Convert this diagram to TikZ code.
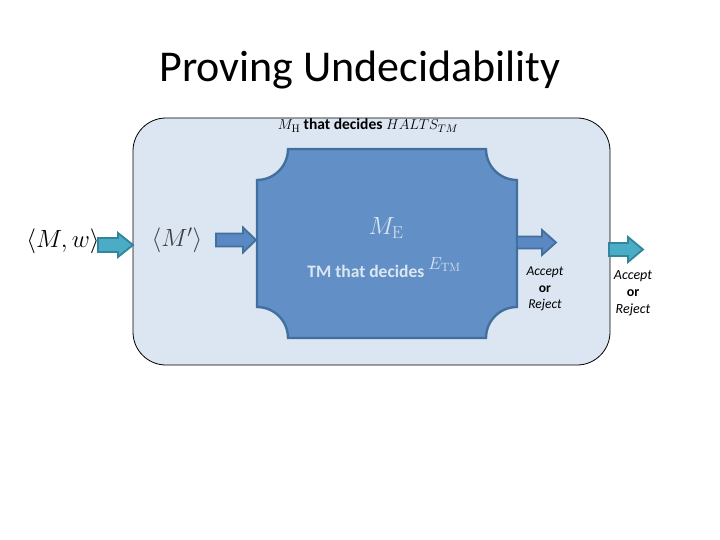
\documentclass[tikz,border=0pt]{standalone}
\usepackage[no-math]{fontspec}
\setmainfont{Carlito}
\definecolor{outerfill}{HTML}{DCE6F2}
\definecolor{plaquefill}{HTML}{6290C6}
\definecolor{plaquedraw}{HTML}{41709F}
\definecolor{bluearrow}{HTML}{5A88C2}
\definecolor{tealfill}{HTML}{4BACC6}
\definecolor{tealdraw}{HTML}{31859C}
\definecolor{lighttext}{HTML}{DCE6F2}
\tikzset{
  tealarrow/.style={fill=tealfill, draw=tealdraw, line width=1.8pt, line join=miter},
  bluearr/.style={fill=bluearrow, draw=plaquedraw, line width=1.8pt, line join=miter},
}
% #1 style, #2 x start, #3 x tip, #4 y centre, #5 shaft half, #6 head half, #7 head length
\newcommand{\blockarr}[7]{%
  \draw[#1] (#2,{#4-#5}) -- ({#3-#7},{#4-#5}) -- ({#3-#7},{#4-#6}) -- (#3,#4)
    -- ({#3-#7},{#4+#6}) -- ({#3-#7},{#4+#5}) -- (#2,{#4+#5}) -- cycle;}
\begin{document}
\begin{tikzpicture}[x=1pt,y=-1pt]
\useasboundingbox (0,0) rectangle (720,540);
\fill[white] (0,0) rectangle (720,540);
\node[font=\fontsize{44}{52}\selectfont, anchor=base, inner sep=0pt] (title) at (360,82) {Proving Undecidability};
% outer machine
\node[draw=black, fill=outerfill, line width=0.8pt, rounded corners=33pt,
      minimum width=477pt, minimum height=247pt, inner sep=0pt] (outer) at (371.5,241.5) {};
% inner machine (plaque)
\draw[fill=plaquefill, draw=plaquedraw, line width=2.4pt]
  (288,149) -- (486,149) arc[start angle=180, end angle=270, radius=31pt]
  -- (517,307) arc[start angle=90, end angle=180, radius=31pt]
  -- (288,338) arc[start angle=0, end angle=90, radius=31pt]
  -- (257,180) arc[start angle=-90, end angle=0, radius=31pt] -- cycle;
\node[minimum width=260pt, minimum height=189pt, inner sep=0pt] (me) at (387,243.5) {};
% labels
\node[anchor=base, inner sep=0pt] (mh) at (368,130)
  {\fontsize{15.5}{18}\selectfont $M_{\mathrm{H}}$ \textbf{that decides} $HALTS_{TM}$};
\node[inner sep=0pt] (inp) at (63,241) {\fontsize{25.5}{30}\selectfont $\langle M,w\rangle$};
\node[inner sep=0pt, text=black!75] (mp) at (177,240) {\fontsize{23}{27}\selectfont $\langle M'\rangle$};
\node[text=lighttext, anchor=base, inner sep=0pt] (mename) at (386,235) {\fontsize{26}{30}\selectfont $M_{\mathrm{E}}$};
\node[text=lighttext, anchor=base, inner sep=0pt] (medesc) at (384,277)
  {\fontsize{17.5}{20}\selectfont\bfseries TM that decides \raisebox{8pt}{\fontsize{17}{20}\selectfont$E_{\mathrm{TM}}$}};
\node[align=center, inner sep=0pt, font=\fontsize{13.5}{16.5}\selectfont] (res1) at (545,289)
  {{\itshape Accept}\\ {\bfseries or}\\ {\itshape Reject}};
\node[align=center, inner sep=0pt, font=\fontsize{14}{17}\selectfont] (res2) at (633,293)
  {{\itshape Accept}\\ {\bfseries or}\\ {\itshape Reject}};
% arrows
\blockarr{tealarrow}{98}{133}{245}{7}{12}{15}
\blockarr{bluearr}{216}{256}{240}{6.5}{12.5}{13}
\blockarr{bluearr}{517}{556}{242.5}{6}{12.5}{14}
\blockarr{tealarrow}{609}{643}{249.5}{6.5}{12.5}{15}
\end{tikzpicture}
\end{document}
